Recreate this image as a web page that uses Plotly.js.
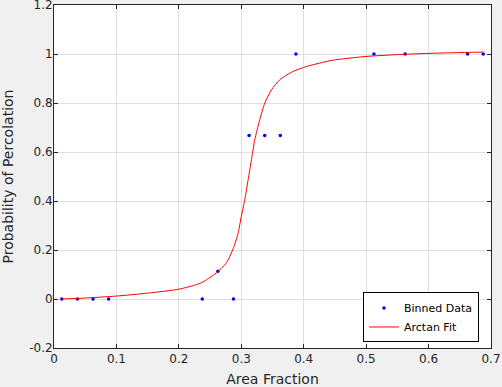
<!DOCTYPE html>
<html>
<head>
<meta charset="utf-8">
<script src="https://cdn.plot.ly/plotly-3.0.1.min.js"></script>
<style>
html,body{margin:0;padding:0;background:#f0f0f0;}
#chart{width:502px;height:387px;}
</style>
</head>
<body>
<div id="chart"></div>
<script>
// Binned data
const binX = [0.0125, 0.0375, 0.0625, 0.0875, 0.2375, 0.2625, 0.2875, 0.3125, 0.3375, 0.3625, 0.3875, 0.5125, 0.5625, 0.6625, 0.6875];
const binY = [0, 0, 0, 0, 0, 0.113, 0, 0.667, 0.667, 0.667, 1, 1, 1, 1, 1];

// Arctan fit curve
const fitX = [0.0125, 0.05, 0.1, 0.15, 0.2, 0.235, 0.26, 0.276, 0.287, 0.295, 0.300, 0.3056, 0.311, 0.3163, 0.3216, 0.3296, 0.3377, 0.3484, 0.3617, 0.383, 0.4045, 0.4258, 0.447, 0.5, 0.554, 0.607, 0.6875];
const fitY = [0.000, 0.004, 0.012, 0.024, 0.040, 0.065, 0.106, 0.147, 0.205, 0.269, 0.337, 0.405, 0.487, 0.569, 0.650, 0.732, 0.800, 0.854, 0.895, 0.929, 0.949, 0.963, 0.975, 0.990, 0.998, 1.003, 1.008];

const xTicks = [0, 0.1, 0.2, 0.3, 0.4, 0.5, 0.6, 0.7];
const xTickText = ['0', '0.1', '0.2', '0.3', '0.4', '0.5', '0.6', '0.7'];
const yTicks = [-0.2, 0, 0.2, 0.4, 0.6, 0.8, 1, 1.2];
const yTickText = ['-0.2', '0', '0.2', '0.4', '0.6', '0.8', '1', '1.2'];

const txt = '#262626';
const fam = 'DejaVu Sans, sans-serif';
const tickFont = {family: fam, size: 12, color: txt};
const labelFont = {family: fam, size: 14, color: txt};

const traces = [
  {
    x: binX, y: binY, type: 'scatter', mode: 'markers', name: 'Binned Data',
    marker: {color: '#0000ff', size: 3.5}
  },
  {
    x: fitX, y: fitY, type: 'scatter', mode: 'lines', name: 'Arctan Fit',
    line: {color: '#ff0000', width: 1, shape: 'spline', smoothing: 0.6}
  }
];

const axisCommon = {
  showline: true, linecolor: txt, linewidth: 1, mirror: 'ticks',
  ticks: 'inside', ticklen: 4, tickcolor: txt, tickwidth: 1,
  showgrid: true, gridcolor: '#dfdfdf', gridwidth: 1,
  zeroline: false, tickfont: tickFont, fixedrange: true,
  ticklabeloverflow: 'allow', automargin: false
};

const layout = {
  width: 502, height: 387,
  paper_bgcolor: '#f0f0f0', plot_bgcolor: '#ffffff',
  margin: {l: 54, r: 11, t: 5, b: 39},
  font: tickFont,
  showlegend: true,
  xaxis: Object.assign({}, axisCommon, {
    range: [0, 0.7], tickvals: xTicks, ticktext: xTickText,
    title: {text: 'Area Fraction', font: labelFont, standoff: 8}
  }),
  yaxis: Object.assign({}, axisCommon, {
    range: [-0.2, 1.2], tickvals: yTicks, ticktext: yTickText,
    ticklabelstandoff: -2,
    title: {text: 'Probability of Percolation', font: labelFont, standoff: 13}
  }),
  legend: {
    x: 0.9725, xanchor: 'right', y: 0.089, yanchor: 'middle',
    bgcolor: '#ffffff', bordercolor: '#000000', borderwidth: 1,
    font: {family: fam, size: 11, color: '#000000'},
    tracegroupgap: 0
  }
};

Plotly.newPlot('chart', traces, layout, {displayModeBar: false, staticPlot: true});
</script>
</body>
</html>
